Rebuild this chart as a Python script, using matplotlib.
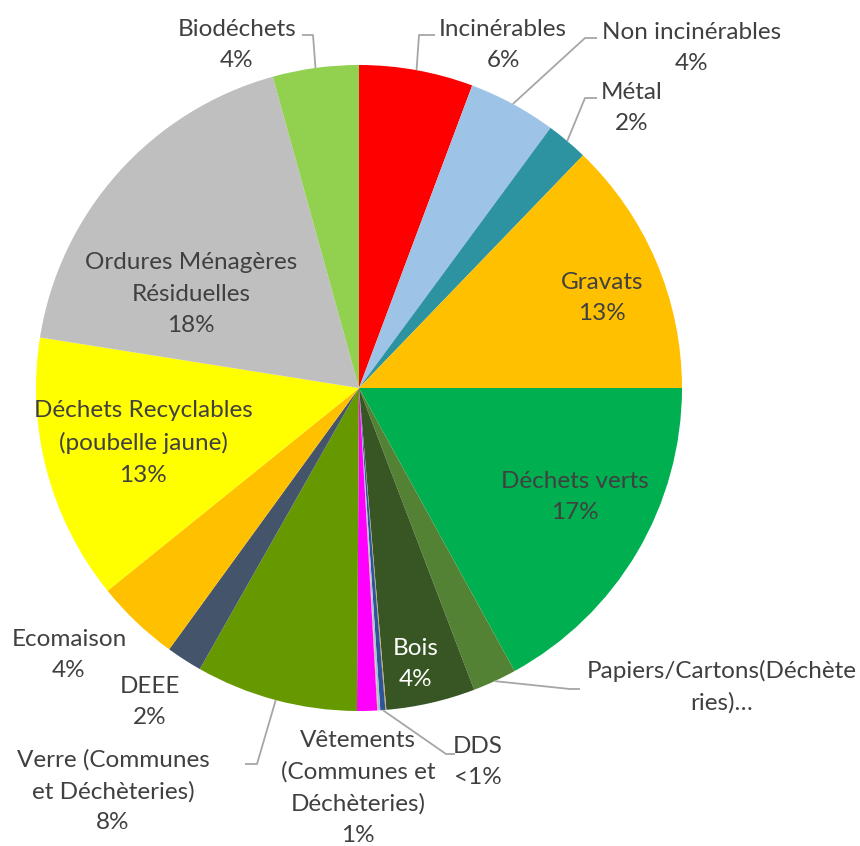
import numpy as np
import matplotlib
matplotlib.use("Agg")
import matplotlib.pyplot as plt

# slices in clockwise order, starting at 12 o'clock
categories = ["Incinérables", "Non incinérables", "Métal", "Gravats", "Déchets verts",
              "Papiers/Cartons(Déchète\nries)…", "Bois", "", "DDS", "", "",
              "Vêtements\n(Communes et\nDéchèteries)", "Verre (Communes\net Déchèteries)",
              "DEEE", "Ecomaison", "Déchets Recyclables\n(poubelle jaune)",
              "Ordures Ménagères\nRésiduelles", "Biodéchets"]
values = [5.7, 4.4, 2.1, 12.8, 17.0, 2.2, 4.45, 0.05, 0.25, 0.1, 0.05,
          1.0, 8.1, 1.8, 4.2, 13.3, 18.2, 4.3]
pct_labels = ["6%", "4%", "2%", "13%", "17%", "", "4%", "", "<1%", "", "",
              "1%", "8%", "2%", "4%", "13%", "18%", "4%"]
colours = ["#FF0000", "#9DC3E6", "#2E93A0", "#FFC000", "#00B050", "#548235", "#375623",
           "#C9A66B", "#2F5597", "#9DC3E6", "#F4B183", "#FF00FF", "#669900", "#44546A",
           "#FFC000", "#FFFF00", "#BFBFBF", "#92D050"]

W, H = 860, 846
CX, CY, R = 359, 388, 323
TEXT = "#404040"
LEADER = "#A6A6A6"

# label placement (image pixel coords): centre of text block, elbow of leader line
label_pos = {
    0: (503, 45, [(419, 35), (435, 35)]),
    1: (692, 48, [(585, 38), (597, 38)]),
    2: (632, 108, [(585, 98), (597, 98)]),
    3: (602, 298, None),
    4: (575, 497, None),
    5: (722, 687, [(570, 689), (580, 689)]),
    6: (416, 664, None),
    8: (478, 762, [(446, 754), (455, 754)]),
    11: (358, 788, None),
    12: (113, 791, [(257, 764), (245, 764)]),
    13: (150, 702, None),
    14: (69, 655, None),
    15: (143, 443, None),
    16: (191, 294, None),
    17: (237, 45, [(313, 35), (302, 35)]),
}
white_text = {6}


def img_xy(x, y):
    return x, H - y


fig = plt.figure(figsize=(W / 100, H / 100), dpi=100)
ax = fig.add_axes([0, 0, 1, 1])
ax.set_xlim(0, W)
ax.set_ylim(0, H)
ax.set_aspect("equal")
ax.axis("off")

wedges, _ = ax.pie(values, colors=colours, startangle=90, counterclock=False,
                   center=img_xy(CX, CY), radius=R,
                   wedgeprops=dict(linewidth=0))
ax.set_xlim(0, W)
ax.set_ylim(0, H)

for i, (lx, ly, elbow) in label_pos.items():
    txt = categories[i]
    if pct_labels[i]:
        txt += "\n" + pct_labels[i]
    col = "white" if i in white_text else TEXT
    x, y = img_xy(lx, ly)
    ax.text(x, y, txt, ha="center", va="center", fontsize=17.5, color=col,
            family="Lato", linespacing=1.6)
    if elbow is not None:
        w = wedges[i]
        mid = np.deg2rad((w.theta1 + w.theta2) / 2)
        ax0, ay0 = w.center[0] + R * np.cos(mid), w.center[1] + R * np.sin(mid)
        pts = [(ax0, ay0)] + [img_xy(px, py) for px, py in elbow]
        ax.plot([p[0] for p in pts], [p[1] for p in pts], color=LEADER, lw=1.3,
                solid_capstyle="butt")

fig.savefig("out.png", dpi=100, facecolor="white")
